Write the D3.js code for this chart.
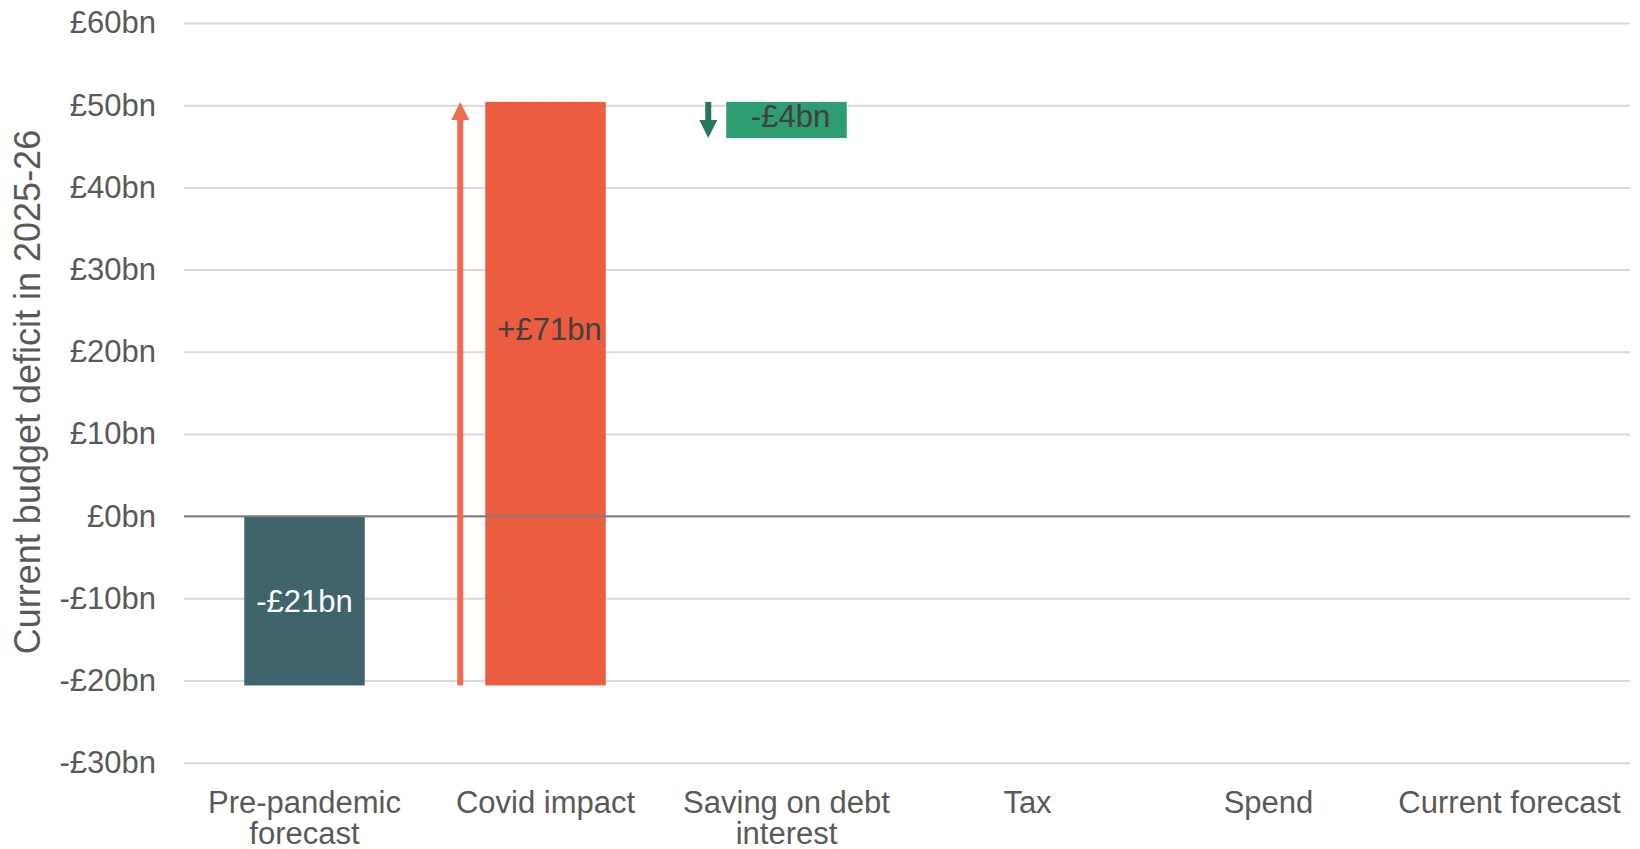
<!DOCTYPE html>
<html>
<head>
<meta charset="utf-8">
<script src="https://cdn.jsdelivr.net/npm/d3@7"></script>
<style>
  html, body { margin: 0; padding: 0; background: #ffffff; }
  svg { display: block; font-family: "Liberation Sans", Arial, sans-serif; }
</style>
</head>
<body>
<svg id="chart" width="1640" height="849"></svg>
<script>
// Current budget deficit in 2025-26: waterfall from the pre-pandemic forecast
const categories = ["Pre-pandemic forecast", "Covid impact", "Saving on debt interest", "Tax", "Spend", "Current forecast"];
const categoryLines = [["Pre-pandemic", "forecast"], ["Covid impact"], ["Saving on debt", "interest"], ["Tax"], ["Spend"], ["Current forecast"]];
// "total" bars start at zero; "change" bars start where the previous bar ended
const kinds = ["total", "change", "change", "change", "change", "total"];
const values = [-20.6, 71.0, -4.4, null, null, null];
const tickValues = [-30, -20, -10, 0, 10, 20, 30, 40, 50, 60];
const yTitle = "Current budget deficit in 2025-26";

const W = 1640, H = 849;
const plot = { left: 184, right: 1630, top: 23, bottom: 762.7 };

const svg = d3.select("#chart");

const x = d3.scaleBand().domain(categories).range([plot.left, plot.right]).paddingInner(0.5).paddingOuter(0.25);
const y = d3.scaleLinear().domain([-30, 60]).range([plot.bottom, plot.top]);

const money = v => (v < 0 ? "-" : "") + "£" + Math.round(Math.abs(v)) + "bn";
const signedMoney = v => (v < 0 ? "-" : "+") + "£" + Math.round(Math.abs(v)) + "bn";

// Build waterfall segments
let running = 0;
const bars = [];
categories.forEach((c, i) => {
  const v = values[i];
  if (v == null) return;
  const start = kinds[i] === "total" ? 0 : running;
  const end = start + v;
  running = end;
  bars.push({ cat: c, kind: kinds[i], value: v, start, end, lo: Math.min(start, end), hi: Math.max(start, end), i });
});

const barColor = d => d.kind === "total" ? "#3F646B" : (d.value > 0 ? "#EB5C40" : "#2F9D72");
const arrowColor = d => d.value > 0 ? "#EE6C52" : "#23795A";

// Gridlines and tick labels
const yAxis = d3.axisLeft(y)
  .tickValues(tickValues)
  .tickSize(-(plot.right - plot.left))
  .tickPadding(28)
  .tickFormat(money);

const gAxis = svg.append("g")
  .attr("transform", `translate(${plot.left},0)`)
  .call(yAxis);
gAxis.select(".domain").remove();
gAxis.selectAll(".tick line").attr("stroke", "#D9D9D9").attr("stroke-width", 2);
gAxis.selectAll(".tick text")
  .attr("fill", "#595959")
  .style("font-size", "31px")
  .style("font-family", "'Liberation Sans', Arial, sans-serif");

// Bars
svg.append("g").selectAll("rect")
  .data(bars)
  .join("rect")
  .attr("x", d => x(d.cat))
  .attr("width", x.bandwidth())
  .attr("y", d => y(d.hi))
  .attr("height", d => y(d.lo) - y(d.hi))
  .attr("fill", barColor);

// Zero line
svg.append("line")
  .attr("x1", plot.left).attr("x2", plot.right)
  .attr("y1", y(0)).attr("y2", y(0))
  .attr("stroke", "#7F7F7F").attr("stroke-width", 2);

// Direction arrows beside each change bar
const changeBars = bars.filter(d => d.kind === "change");
const headLen = 18, headHalf = 9, shaftW = 6;
const arrows = svg.append("g");
changeBars.forEach(d => {
  const ax = x(d.cat) - (d.value > 0 ? 25 : 18);
  const y0 = y(d.start), y1 = y(d.end);
  const dir = y1 < y0 ? -1 : 1; // -1 points up
  const baseY = y1 - dir * headLen;
  arrows.append("rect")
    .attr("x", ax - shaftW / 2)
    .attr("width", shaftW)
    .attr("y", Math.min(y0, baseY))
    .attr("height", Math.abs(baseY - y0))
    .attr("fill", arrowColor(d));
  arrows.append("path")
    .attr("d", `M${ax - headHalf},${baseY}L${ax + headHalf},${baseY}L${ax},${y1}Z`)
    .attr("fill", arrowColor(d));
});

// Value labels
svg.append("g").selectAll("text")
  .data(bars)
  .join("text")
  .attr("x", d => x(d.cat) + x.bandwidth() / 2 + (d.kind === "change" ? 4 : 0))
  .attr("y", d => y(d.hi) + (y(d.lo) - y(d.hi)) * (d.kind === "total" ? 0.5 : 0.39))
  .attr("dy", "0.35em")
  .attr("text-anchor", "middle")
  .attr("fill", d => d.kind === "total" ? "#FFFFFF" : "#404040")
  .style("font-size", "31px")
  .text(d => d.kind === "total" ? money(d.value) : signedMoney(d.value));

// Category labels, wrapped onto two lines where needed
const xl = svg.append("g");
categories.forEach((c, i) => {
  const cx = x(c) + x.bandwidth() / 2;
  const t = xl.append("text")
    .attr("x", cx)
    .attr("y", 813)
    .attr("text-anchor", "middle")
    .attr("fill", "#595959")
    .style("font-size", "31px");
  categoryLines[i].forEach((line, k) => {
    t.append("tspan")
      .attr("x", cx)
      .attr("dy", k === 0 ? 0 : 31)
      .text(line);
  });
});

// Y-axis title
svg.append("text")
  .attr("transform", "translate(40,392) rotate(-90)")
  .attr("text-anchor", "middle")
  .attr("fill", "#595959")
  .style("font-size", "36px")
  .text(yTitle);
</script>
</body>
</html>
